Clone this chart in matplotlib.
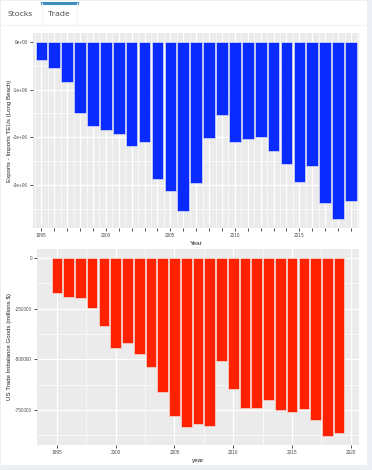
import matplotlib
matplotlib.use("Agg")
import matplotlib.pyplot as plt
import numpy as np
from matplotlib.patches import Rectangle

years = list(range(1995, 2020))

# Long Beach container balance, exports - imports (TEUs)
teu_balance = [-0.377e6, -0.544e6, -0.837e6, -1.493e6, -1.766e6, -1.856e6,
               -1.933e6, -2.191e6, -2.107e6, -2.875e6, -3.119e6, -3.538e6,
               -2.952e6, -2.010e6, -1.542e6, -2.107e6, -2.038e6, -1.996e6,
               -2.282e6, -2.554e6, -2.938e6, -2.596e6, -3.385e6, -3.719e6,
               -3.336e6]

# US goods trade balance (millions $)
goods_balance = [-171600, -191400, -196400, -247500, -335000, -445500,
                 -420800, -473600, -539600, -663400, -780500, -836600,
                 -820100, -831700, -508300, -646900, -739300, -739300,
                 -699700, -749200, -762400, -747500, -798700, -879500,
                 -863000]

W, H = 372, 470
fig = plt.figure(figsize=(W / 100, H / 100), dpi=100)
fig.patch.set_facecolor("#ecf0f5")
plt.rcParams["font.family"] = ["Liberation Sans", "DejaVu Sans"]

def px(x0, y0, x1, y1):
    # pixel box (from top-left) -> figure fraction rect
    return [x0 / W, 1 - y1 / H, (x1 - x0) / W, (y1 - y0) / H]

# white tab box + tabs
fig.patches.append(Rectangle((1 / W, 1 - 465 / H), 366 / W, 464 / H,
                             transform=fig.transFigure, facecolor="white",
                             edgecolor="none", zorder=-5))
fig.lines.append(plt.Line2D([1 / W, 367 / W], [1 - 25 / H, 1 - 25 / H],
                            transform=fig.transFigure, color="#f4f4f4", lw=1))
fig.lines.append(plt.Line2D([42 / W, 77 / W], [1 - 2.5 / H, 1 - 2.5 / H],
                            transform=fig.transFigure, color="#3c8dbc", lw=2.2))
fig.lines.append(plt.Line2D([42 / W, 42 / W], [1 - 3 / H, 1 - 25 / H],
                            transform=fig.transFigure, color="#f4f4f4", lw=0.8))
fig.lines.append(plt.Line2D([77 / W, 77 / W], [1 - 3 / H, 1 - 25 / H],
                            transform=fig.transFigure, color="#f4f4f4", lw=0.8))
fig.text(20.5 / W, 1 - 15 / H, "Stocks", fontsize=6, color="#444444",
         family="Open Sans", ha="center", va="center")
fig.text(59.5 / W, 1 - 15 / H, "Trade", fontsize=6, color="#444444",
         family="Open Sans", ha="center", va="center")


def gg_style(ax, ylab, xlab, ylab_x):
    ax.set_facecolor("#ebebeb")
    for s in ax.spines.values():
        s.set_visible(False)
    ax.grid(which="major", color="white", lw=0.9)
    ax.grid(which="minor", color="white", lw=0.45)
    ax.set_axisbelow(True)
    ax.tick_params(which="major", length=2, width=0.6, color="#333333",
                   labelsize=3.4, labelcolor="#4d4d4d", pad=1.5)
    ax.tick_params(which="minor", length=0)
    ax.set_ylabel(ylab, fontsize=4.4, color="#222222")
    ax.yaxis.set_label_coords(ylab_x, 0.5)
    ax.set_xlabel(xlab, fontsize=4.6, color="#222222", labelpad=2.5)


# top chart
ax1 = fig.add_axes(px(33, 33, 359, 228))
ax1.bar(years, teu_balance, width=0.9, color="#0a2bff",
        edgecolor="#d8dcf0", linewidth=0.5)
ax1.set_xlim(1994.35, 2019.62)
lo = min(teu_balance)
ax1.set_ylim(lo * 1.05, -lo * 0.05)
ax1.set_xticks(years)
ax1.set_xticklabels([str(y) if y % 5 == 0 else "" for y in years])
ax1.set_xticks(np.arange(1994.5, 2020, 1.0), minor=True)
ax1.set_yticks([0, -1e6, -2e6, -3e6])
ax1.set_yticklabels(["0e+00", "-1e+06", "-2e+06", "-3e+06"])
ax1.set_yticks([-0.5e6, -1.5e6, -2.5e6, -3.5e6], minor=True)
gg_style(ax1, "Exports - Imports TEUs (Long Beach)", "Year", (12.5 - 33) / 326)

# bottom chart
ax2 = fig.add_axes(px(37, 249, 359, 445))
ax2.bar(years, goods_balance, width=0.9, color="#ff2200",
        edgecolor="#f3dcd8", linewidth=0.5)
span = (years[-1] + 0.45) - (years[0] - 0.45)
ax2.set_xlim(years[0] - 0.45 - 0.05 * span, years[-1] + 0.45 + 0.05 * span)
lo = min(goods_balance)
ax2.set_ylim(lo * 1.05, -lo * 0.05)
ax2.set_xticks([1995, 2000, 2005, 2010, 2015, 2020])
ax2.set_xticks([1997.5, 2002.5, 2007.5, 2012.5, 2017.5], minor=True)
ax2.set_yticks([0, -250000, -500000, -750000])
ax2.set_yticklabels(["0", "-250000", "-500000", "-750000"])
ax2.set_yticks([-125000, -375000, -625000, -875000], minor=True)
gg_style(ax2, "US Trade Imbalance Goods (millions $)", "year", (12.5 - 37) / 322)

fig.savefig("out.png", dpi=100, facecolor=fig.get_facecolor())
